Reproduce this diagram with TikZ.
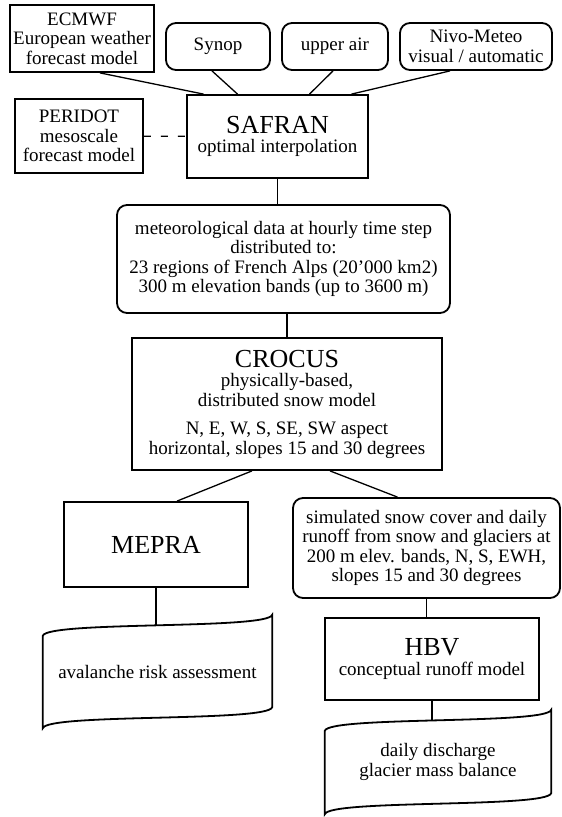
\documentclass[tikz,border=0pt]{standalone}
\usepackage{fontspec}
\setmainfont{Liberation Serif}
\usetikzlibrary{positioning,calc}

\newcommand\bodysize{\fontsize{19}{19.5}\selectfont}
\newcommand\titlesize{\fontsize{26}{28}\selectfont}
% wavy output sheet drawn round a node
\newcommand\docoutline[1]{%
    \draw[line width=1.8pt] ([yshift=-11pt]#1.north west)
        .. controls +(4pt,15pt) and +(-4pt,-15pt) .. ([yshift=10pt]#1.north east)
        -- ([yshift=11pt]#1.south east)
        .. controls +(-4pt,-15pt) and +(4pt,15pt) .. ([yshift=-10pt]#1.south west)
        -- cycle;}

\begin{document}
\begin{tikzpicture}[x=1pt, y=-1pt,
    every node/.style={font=\bodysize},
    box/.style={rectangle, draw, line width=1.8pt, align=center, inner sep=0pt},
    rbox/.style={box, rounded corners=10pt},
    doc/.style={rectangle, align=center, inner sep=0pt},
    link/.style={line width=1.3pt}]
    \useasboundingbox (0,0) rectangle (562,817);

    % input data
    \node[box, minimum width=144pt, minimum height=67pt] (ecmwf) at (82,38.5) {ECMWF\\European weather\\forecast model};
    \node[rbox, minimum width=104pt, minimum height=47pt] (synop) at (218,46.5) {Synop};
    \node[rbox, minimum width=106pt, minimum height=47pt] (upper) at (335,46.5) {upper air};
    \node[rbox, minimum width=152pt, minimum height=47pt] (nivo) at (476,46.5) {Nivo-Meteo\\visual / automatic};

    % analysis
    \node[box, minimum width=181pt, minimum height=83pt] (safran) at (277.5,136.5) {{\titlesize SAFRAN}\\optimal interpolation};
    \node[box, minimum width=128pt, minimum height=74pt] (peridot) at (79,136) {PERIDOT\\mesoscale\\forecast model};
    \node[rbox, minimum width=333pt, minimum height=108pt] (meteo) at (283.5,259) {meteorological data at hourly time step\\distributed to:\\23 regions of French Alps (20'000 km2)\\300 m elevation bands (up to 3600 m)};

    % snow model
    \node[box, minimum width=310pt, minimum height=132pt] (crocus) at (287,404) {{\titlesize CROCUS}\\physically-based,\\distributed snow model\\[9pt]N, E, W, S, SE, SW aspect\\horizontal, slopes 15 and 30 degrees};

    % applications
    \node[box, minimum width=184pt, minimum height=85pt] (mepra) at (156,544.5) {\titlesize MEPRA};
    \node[rbox, minimum width=267pt, minimum height=100pt] (simul) at (426.5,548) {simulated snow cover and daily\\runoff from snow and glaciers at\\200 m elev. bands, N, S, EWH,\\slopes 15 and 30 degrees};
    \node[box, minimum width=214pt, minimum height=82pt] (hbv) at (432,659) {{\titlesize HBV}\\conceptual runoff model};
    \node[doc, minimum width=229pt, minimum height=93pt] (aval) at (157.5,671.5) {avalanche risk assessment};
    \node[doc, minimum width=226pt, minimum height=84pt] (disch) at (438,762) {daily discharge\\glacier mass balance};
    \docoutline{aval}
    \docoutline{disch}

    \draw[link] ([xshift=18pt]ecmwf.south) -- ([xshift=-74pt]safran.north);
    \draw[link] ([xshift=-6pt]synop.south) -- ([xshift=-40pt]safran.north);
    \draw[link] ([xshift=-2pt]upper.south) -- ([xshift=32pt]safran.north);
    \draw[link] ([xshift=-26pt]nivo.south) -- ([xshift=74pt]safran.north);
    \draw[link, dash pattern=on 7pt off 10pt] (peridot) -- (safran);
    \draw[link] (safran.south) -- (safran.south |- meteo.north);
    \draw[link] (crocus.north) -- (crocus.north |- meteo.south);
    \draw[link] ([xshift=-35pt]crocus.south) -- ([xshift=21pt]mepra.north);
    \draw[link] ([xshift=43pt]crocus.south) -- ([xshift=-29pt]simul.north);
    \draw[link] (mepra.south) -- (mepra.south |- aval.north);
    \draw[link] (simul.south) -- (simul.south |- hbv.north);
    \draw[link] (hbv.south) -- (hbv.south |- disch.north);
\end{tikzpicture}
\end{document}
